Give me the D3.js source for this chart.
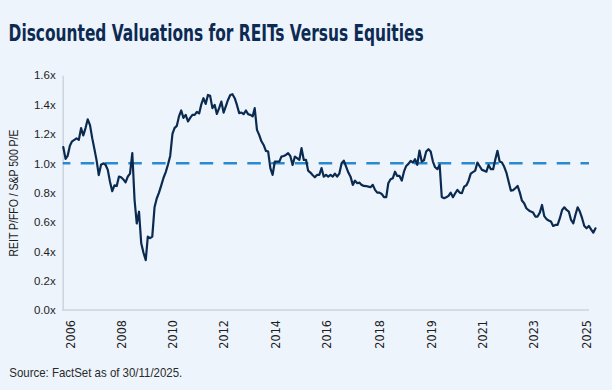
<!DOCTYPE html>
<html>
<head>
<meta charset="utf-8">
<script src="https://cdn.jsdelivr.net/npm/d3@7"></script>
<style>
  html, body { margin: 0; padding: 0; background: #EDF4FC; }
  svg { display: block; }
</style>
</head>
<body>
<svg id="chart" width="612" height="390"></svg>
<script>
// ---------------- DATA ----------------
const title = "Discounted Valuations for REITs Versus Equities";
const yAxisTitle = "REIT P/FFO / S&P 500 P/E";
const source = "Source: FactSet as of 30/11/2025.";
const startMonth = "2006-01";   // first monthly observation
const endMonth = "2025-11";     // last monthly observation
// REIT P/FFO divided by S&P 500 P/E, monthly from Jan 2006
const ratio = [
  1.11,1.03,1.05,1.12,1.15,1.16,1.17,1.16,1.24,1.19,1.24,1.30,
  1.26,1.17,1.10,1.02,0.92,0.99,1.00,0.99,0.955,0.875,0.81,0.85,
  0.845,0.91,0.905,0.89,0.87,0.91,0.93,1.07,0.75,0.59,0.67,0.455,
  0.39,0.34,0.50,0.49,0.50,0.70,0.76,0.80,0.85,0.90,0.94,0.99,
  1.05,1.20,1.24,1.255,1.32,1.36,1.31,1.33,1.285,1.31,1.33,1.33,
  1.35,1.34,1.40,1.444,1.405,1.466,1.46,1.376,1.398,1.337,1.376,1.421,
  1.346,1.39,1.432,1.466,1.471,1.444,1.398,1.342,1.346,1.335,1.36,1.335,
  1.33,1.32,1.376,1.228,1.194,1.15,1.125,1.085,1.08,0.967,0.921,1.012,
  1.012,1.012,1.046,1.05,1.057,1.069,1.05,0.989,1.046,1.035,1.023,1.103,
  1.023,1.023,0.95,0.937,0.92,0.905,0.921,0.921,0.967,0.909,0.921,0.909,
  0.921,0.909,0.93,0.91,0.93,1.00,1.018,0.978,0.937,0.909,0.853,0.882,
  0.864,0.868,0.853,0.846,0.845,0.841,0.837,0.853,0.819,0.80,0.80,0.791,
  0.769,0.769,0.864,0.891,0.898,0.943,0.914,0.914,0.882,0.943,0.982,0.996,
  1.016,1.005,1.028,0.99,1.087,1.012,1.02,1.08,1.096,1.08,1.012,0.973,
  0.96,0.99,0.77,0.762,0.769,0.778,0.80,0.769,0.796,0.819,0.80,0.796,
  0.841,0.85,0.88,0.93,0.94,0.95,1.005,0.98,0.955,0.95,0.943,0.989,
  0.96,0.96,1.023,1.085,1.012,1.005,0.978,0.937,0.875,0.814,0.817,0.83,
  0.846,0.80,0.746,0.728,0.694,0.68,0.671,0.664,0.637,0.637,0.664,0.716,
  0.64,0.62,0.61,0.603,0.573,0.58,0.58,0.626,0.682,0.70,0.682,0.671,
  0.614,0.591,0.648,0.70,0.671,0.626,0.573,0.557,0.573,0.55,0.527,0.557
];
const parity = 1.0;  // reference level (dashed line)
const yTicks = [0, 0.2, 0.4, 0.6, 0.8, 1.0, 1.2, 1.4, 1.6];
const xTickDates = ["2006-04","2008-03","2010-02","2012-01","2013-12","2015-11",
                    "2017-11","2019-10","2021-09","2023-08","2025-08"];
const xTickLabels = ["2006","2008","2010","2012","2014","2016",
                     "2018","2019","2021","2023","2025"];

// ---------------- LAYOUT ----------------
const W = 612, H = 390;
const plot = { left: 62.7, right: 589, top: 75.3, bottom: 310, lineEnd: 593.3 };
const colors = {
  bg: "#EDF4FC", title: "#0C2A52", line: "#0B2A50", dash: "#2B89D0",
  axis: "#CDD4DC", text: "#1E1E1E"
};
const condensed = "'DejaVu Sans Condensed', 'Liberation Sans Narrow', sans-serif";
const regular = "'Liberation Sans', Arial, sans-serif";

const parseMonth = d3.timeParse("%Y-%m");
const start = parseMonth(startMonth);
const data = ratio.map((v, i) => ({ date: d3.timeMonth.offset(start, i), value: v }));

const svg = d3.select("#chart");
svg.append("rect").attr("width", W).attr("height", H).attr("fill", colors.bg);

const x = d3.scaleTime()
  .domain([start, parseMonth(endMonth)])
  .range([plot.left + 0.6, plot.lineEnd]);
const y = d3.scaleLinear().domain([0, 1.6]).range([plot.bottom, plot.top]);

// Title
svg.append("text")
  .attr("x", 8.6).attr("y", 40.6)
  .attr("font-family", condensed).attr("font-weight", "bold")
  .attr("font-size", 23).attr("fill", colors.title)
  .attr("textLength", 415).attr("lengthAdjust", "spacingAndGlyphs")
  .text(title);

// Y axis
const yAxis = d3.axisLeft(y)
  .tickValues(yTicks)
  .tickSize(0).tickPadding(7)
  .tickFormat(d => d.toFixed(1) + "x");
const gy = svg.append("g").attr("transform", `translate(${plot.left},0)`).call(yAxis);
gy.select(".domain").attr("stroke", colors.axis).attr("stroke-width", 1.5);
gy.selectAll("text")
  .attr("font-family", regular).attr("font-size", 11.5).attr("fill", colors.text);

// X axis (baseline drawn across the plot area)
svg.append("line")
  .attr("x1", plot.left - 0.7).attr("x2", plot.right)
  .attr("y1", plot.bottom).attr("y2", plot.bottom)
  .attr("stroke", colors.axis).attr("stroke-width", 1.5);
const xAxis = d3.axisBottom(x)
  .tickValues(xTickDates.map(parseMonth))
  .tickSize(0)
  .tickFormat((d, i) => xTickLabels[i]);
const gx = svg.append("g").attr("transform", `translate(0,${plot.bottom})`).call(xAxis);
gx.select(".domain").remove();
gx.selectAll("text")
  .attr("font-family", condensed).attr("font-size", 12.5).attr("fill", colors.text)
  .attr("transform", "rotate(-90)")
  .attr("text-anchor", "end")
  .attr("x", -10).attr("y", 0).attr("dy", "0.35em");

// Y axis title
svg.append("text")
  .attr("transform", `translate(17.8,193) rotate(-90)`)
  .attr("text-anchor", "middle")
  .attr("font-family", regular).attr("font-size", 12.5).attr("fill", colors.text)
  .attr("textLength", 127).attr("lengthAdjust", "spacingAndGlyphs")
  .text(yAxisTitle);

// Parity dashed line
svg.append("line")
  .attr("x1", plot.left).attr("x2", plot.right)
  .attr("y1", y(parity)).attr("y2", y(parity))
  .attr("stroke", colors.dash).attr("stroke-width", 2.6)
  .attr("stroke-dasharray", "13.5,10.3").attr("stroke-dashoffset", 5.8);

// Ratio line
const line = d3.line().x(d => x(d.date)).y(d => y(d.value));
svg.append("path")
  .datum(data)
  .attr("d", line)
  .attr("fill", "none")
  .attr("stroke", colors.line)
  .attr("stroke-width", 2.2)
  .attr("stroke-linejoin", "round")
  .attr("stroke-linecap", "round");

// Source
svg.append("text")
  .attr("x", 9.3).attr("y", 377)
  .attr("font-family", regular).attr("font-size", 13.5).attr("fill", "#2A2A2A")
  .attr("textLength", 173).attr("lengthAdjust", "spacingAndGlyphs")
  .text(source);
</script>
</body>
</html>
